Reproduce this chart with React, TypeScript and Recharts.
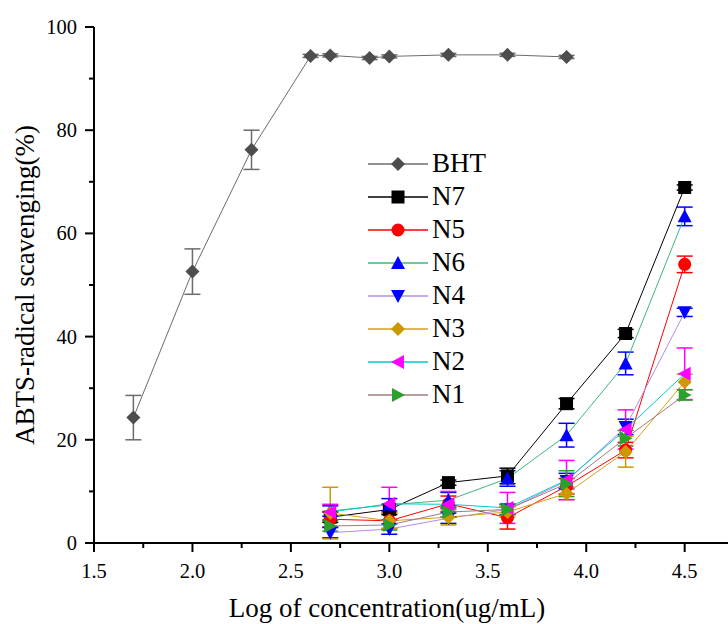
import { LineChart, Line, XAxis, YAxis, ErrorBar, Legend } from 'recharts';

const FONT = 'Liberation Serif';

const bhtConc = [1.7, 2.0, 2.3, 2.6, 2.7, 2.9, 3.0, 3.3, 3.6, 3.9];
const bhtValues = [24.3, 52.6, 76.2, 94.4, 94.5, 94.0, 94.3, 94.6, 94.6, 94.2];
const bhtErr = [4.3, 4.4, 3.8, 0.3, 0.3, 0.3, 0.3, 0.3, 0.3, 0.3];

const nConc = [2.7, 3.0, 3.3, 3.6, 3.9, 4.2, 4.5];
const n7 = [5.0, 6.5, 11.7, 13.0, 27.0, 40.6, 68.9];
const n7Err = [1, 1, 0.5, 1.5, 1, 0.8, 0.5];
const n5 = [4.6, 4.3, 7.6, 4.9, 11.0, 18.0, 54.0];
const n5Err = [1.5, 1.5, 1.5, 2.2, 1.5, 1.5, 1.6];
const n6 = [6.2, 7.4, 8.3, 12.5, 20.9, 34.8, 63.3];
const n6Err = [1, 1.2, 1.5, 1.5, 2.3, 2.2, 1.8];
const n4 = [2.0, 2.7, 4.8, 6.5, 12.0, 22.5, 44.7];
const n4Err = [1, 1, 1, 1, 1.5, 1.5, 0.8];
const n3 = [5.8, 4.3, 5.0, 6.0, 9.6, 17.7, 31.2];
const n3Err = [5, 1.5, 1.5, 1, 1.2, 3, 1.5];
const n2 = [6.0, 7.6, 7.5, 6.8, 12.2, 22.0, 32.8];
const n2Err = [1.5, 3.2, 2.5, 3, 3.8, 3.8, 5];
const n1 = [3.3, 3.5, 6.0, 6.5, 11.5, 20.3, 28.7];
const n1Err = [1, 1, 1, 1, 2.5, 1.5, 1];

const xTicks = [1.5, 1.75, 2.0, 2.25, 2.5, 2.75, 3.0, 3.25, 3.5, 3.75, 4.0, 4.25, 4.5];
const yTicks = [0, 10, 20, 30, 40, 50, 60, 70, 80, 90, 100];

const toRows = (xs: number[], ys: number[], es: number[]) =>
  xs.map((x, i) => ({ x, y: ys[i], err: es[i] }));

type Shape = 'diamond' | 'square' | 'circle' | 'up' | 'down' | 'left' | 'right';

const series = [
  { name: 'BHT', rows: toRows(bhtConc, bhtValues, bhtErr), line: '#6b6b6b', fill: '#4d4d4d', shape: 'diamond' as Shape },
  { name: 'N7', rows: toRows(nConc, n7, n7Err), line: '#000000', fill: '#000000', shape: 'square' as Shape },
  { name: 'N5', rows: toRows(nConc, n5, n5Err), line: '#ff0000', fill: '#ff0000', shape: 'circle' as Shape },
  { name: 'N6', rows: toRows(nConc, n6, n6Err), line: '#3cb878', fill: '#0000ff', shape: 'up' as Shape },
  { name: 'N4', rows: toRows(nConc, n4, n4Err), line: '#b48ce8', fill: '#0000ff', shape: 'down' as Shape },
  { name: 'N3', rows: toRows(nConc, n3, n3Err), line: '#d4a017', fill: '#cc9900', shape: 'diamond' as Shape },
  { name: 'N2', rows: toRows(nConc, n2, n2Err), line: '#00cccc', fill: '#ff00ff', shape: 'left' as Shape },
  { name: 'N1', rows: toRows(nConc, n1, n1Err), line: '#a07c7c', fill: '#2ca02c', shape: 'right' as Shape },
];

function Marker({ cx, cy, shape, fill }: { cx: number; cy: number; shape: Shape; fill: string }) {
  const s = 7;
  switch (shape) {
    case 'diamond':
      return <polygon points={`${cx},${cy - s} ${cx + s},${cy} ${cx},${cy + s} ${cx - s},${cy}`} fill={fill} />;
    case 'square':
      return <rect x={cx - 6.5} y={cy - 6.5} width={13} height={13} fill={fill} />;
    case 'circle':
      return <circle cx={cx} cy={cy} r={6.5} fill={fill} />;
    case 'up':
      return <polygon points={`${cx},${cy - s} ${cx + s},${cy + 6} ${cx - s},${cy + 6}`} fill={fill} />;
    case 'down':
      return <polygon points={`${cx},${cy + s} ${cx + s},${cy - 6} ${cx - s},${cy - 6}`} fill={fill} />;
    case 'left':
      return <polygon points={`${cx - s},${cy} ${cx + 6},${cy - s} ${cx + 6},${cy + s}`} fill={fill} />;
    case 'right':
      return <polygon points={`${cx + s},${cy} ${cx - 6},${cy - s} ${cx - 6},${cy + s}`} fill={fill} />;
  }
}

const makeDot = (shape: Shape, fill: string) => (props: any) => {
  const { cx, cy, index } = props;
  if (cx == null || cy == null) return <g key={index} />;
  return (
    <g key={index}>
      <Marker cx={cx} cy={cy} shape={shape} fill={fill} />
    </g>
  );
};

const XTick = ({ x, y, payload }: any) => {
  const v = payload.value as number;
  const major = Math.abs(v * 2 - Math.round(v * 2)) < 1e-6;
  return (
    <g>
      <line x1={x} x2={x} y1={y} y2={y + (major ? 9 : 5)} stroke="#000" strokeWidth={2} />
      {major && (
        <text x={x} y={y + 35} textAnchor="middle" fontSize={20.5} style={{ fontFamily: FONT }} fill="#000">
          {v.toFixed(1)}
        </text>
      )}
    </g>
  );
};

const YTick = ({ x, y, payload }: any) => {
  const v = payload.value as number;
  const major = v % 20 === 0;
  return (
    <g>
      <line x1={x} x2={x - (major ? 9 : 5)} y1={y} y2={y} stroke="#000" strokeWidth={2} />
      {major && (
        <text x={x - 17} y={y + 7} textAnchor="end" fontSize={20.5} style={{ fontFamily: FONT }} fill="#000">
          {v}
        </text>
      )}
    </g>
  );
};

const LegendBox = () => (
  <div style={{ fontFamily: FONT }}>
    {series.map((s) => (
      <div key={s.name} style={{ display: 'flex', alignItems: 'center', height: 33 }}>
        <svg width={66} height={20}>
          <line x1={2} x2={62} y1={10} y2={10} stroke={s.line} strokeWidth={1.5} />
          <Marker cx={32} cy={10} shape={s.shape} fill={s.fill} />
        </svg>
        <span style={{ fontSize: 27, color: '#000', lineHeight: '27px', fontFamily: FONT }}>{s.name}</span>
      </div>
    ))}
  </div>
);

export default function App() {
  return (
    <div style={{ position: 'absolute', left: 0, top: 0, width: 728, height: 624, background: '#fff', fontFamily: FONT }}>
      <LineChart width={728} height={624} margin={{ top: 27, right: 0, left: 0, bottom: 0 }} style={{ fontFamily: FONT }}>
        <XAxis
          type="number"
          dataKey="x"
          domain={[1.5, 4.72]}
          ticks={xTicks}
          interval={0}
          allowDataOverflow
          height={81}
          tickSize={0}
          tickMargin={0}
          tickLine={false}
          tick={<XTick />}
          axisLine={{ stroke: '#000', strokeWidth: 2 }}
          label={{
            value: 'Log of concentration(ug/mL)',
            position: 'insideBottom',
            offset: 7,
            dx: -24,
            style: { fontFamily: FONT, fontSize: 27, fill: '#000' },
          }}
        />
        <YAxis
          type="number"
          domain={[0, 100]}
          ticks={yTicks}
          interval={0}
          width={94}
          tickSize={0}
          tickMargin={0}
          tickLine={false}
          tick={<YTick />}
          axisLine={{ stroke: '#000', strokeWidth: 2 }}
          label={{
            value: 'ABTS-radical scavenging(%)',
            angle: -90,
            position: 'insideLeft',
            offset: 24,
            style: { fontFamily: FONT, fontSize: 27, fill: '#000', textAnchor: 'middle' },
          }}
        />
        <Legend
          layout="vertical"
          align="center"
          verticalAlign="middle"
          content={<LegendBox />}
          wrapperStyle={{ left: 366, top: 147, width: 140 }}
        />
        {series.map((s) => (
          <Line
            key={s.name}
            name={s.name}
            data={s.rows}
            dataKey="y"
            stroke={s.line}
            strokeWidth={1}
            dot={makeDot(s.shape, s.fill)}
            activeDot={false}
            isAnimationActive={false}
          >
            <ErrorBar dataKey="err" direction="y" width={8} stroke={s.name === 'BHT' ? '#6b6b6b' : s.fill} strokeWidth={1.5} />
          </Line>
        ))}
      </LineChart>
    </div>
  );
}
